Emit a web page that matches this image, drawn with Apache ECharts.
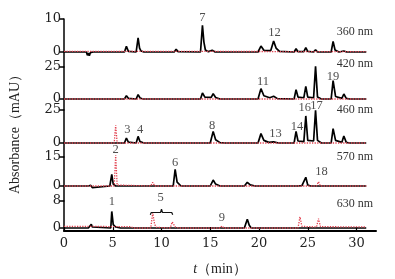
<!DOCTYPE html>
<html>
<head>
<meta charset="utf-8">
<script src="https://cdn.jsdelivr.net/npm/echarts@6/dist/echarts.min.js"></script>
<style>
  html, body { margin: 0; padding: 0; background: #fff; }
  #chart { width: 395px; height: 279px; }
</style>
</head>
<body>
<div id="chart"></div>
<script>
// panel names and the top tick of each y axis
var wavelengths = ['360 nm', '420 nm', '460 nm', '570 nm', '630 nm']
var yTopTicks = [10, 25, 25, 15, 8]
var xTicks = [0, 5, 10, 15, 20, 25, 30]

// chromatograms: [t (min), absorbance (mAU)]
var black360 = [[0,0],[2.3,0],[2.4,-1.0],[2.5,-0.3],[2.6,-1.1],[2.7,-0.2],[2.9,-0.8],[3.0,0],[4.7,0],[4.9,0.3],[5.1,0],[6.2,0],[6.4,1.7],[6.6,0.2],[7.4,0],[7.6,4.3],[7.75,1.2],[7.9,0.3],[8.2,0],[11.3,0],[11.5,0.8],[11.7,0.1],[14.0,0],[14.2,8.1],[14.35,3.0],[14.5,0.6],[14.8,0.1],[15.2,0.5],[15.5,0],[19.9,0],[20.2,1.8],[20.5,0.5],[21.2,0.4],[21.5,3.3],[21.75,1.2],[22.1,0.2],[23.6,0],[23.8,1.0],[24.0,0.1],[24.6,0.1],[24.8,1.3],[25.0,0.2],[25.6,0],[25.8,0.7],[26.0,0],[27.4,0],[27.6,3.2],[27.8,0.6],[28.2,0],[28.7,0.3],[29.0,0],[31.0,0]]
var red360 = [[0,0.2],[7.1,0.2],[7.3,0.6],[7.5,0.2],[31.0,0.1]]

var black420 = [[0,0],[2.6,0],[2.8,-1.0],[3.0,0],[6.2,0],[6.4,2.6],[6.6,0.5],[7.4,0],[7.6,3.4],[7.8,0.8],[8.1,0],[14.0,0],[14.2,4.7],[14.45,1.5],[15.1,1.2],[15.3,4.2],[15.55,1.2],[16.0,0],[19.9,0],[20.2,8.1],[20.5,2.5],[21.1,1.0],[21.5,2.1],[21.9,0.3],[23.6,0],[23.8,7.3],[24.0,1.5],[24.6,1.0],[24.8,9.9],[25.0,1.5],[25.6,1.0],[25.8,25.5],[26.0,1.5],[26.4,0],[27.4,0],[27.6,14.3],[27.85,2.0],[28.5,0.5],[28.7,3.9],[28.95,0.5],[29.3,0],[31.0,0]]
var red420 = [[0,0],[5.1,0],[5.3,0.8],[5.5,0],[31.0,0]]

var black460 = [[0,0],[2.7,0],[2.9,-1.2],[3.1,0],[6.2,0],[6.4,3.8],[6.6,0.6],[7.4,0],[7.6,5.0],[7.8,1.0],[8.2,0],[11.3,0],[11.5,0.6],[11.7,0],[14.0,0],[14.2,0.8],[14.4,0],[15.0,0],[15.3,8.8],[15.55,2.5],[16.0,0.3],[16.5,0],[19.9,0],[20.2,7.1],[20.5,2.0],[21.0,0.5],[21.5,0.8],[22.0,0],[23.6,0],[23.8,8.8],[24.0,1.5],[24.6,1.0],[24.8,20.5],[25.0,2.0],[25.6,1.5],[25.8,24.8],[26.0,2.0],[26.4,0],[27.4,0],[27.6,10.9],[27.85,2.0],[28.5,0.5],[28.7,5.3],[28.95,0.5],[29.3,0],[31.0,0]]
var red460 = [[0,0],[5.15,0],[5.3,13.5],[5.45,0],[21.5,0],[21.7,1.0],[21.9,0],[31.0,0]]

var black570 = [[0,0],[2.5,0],[2.6,-0.9],[2.75,0.3],[2.9,-0.8],[3.05,0],[4.7,0],[4.9,6.0],[5.05,1.0],[5.3,0],[6.3,0],[6.5,0.5],[6.7,0],[7.4,0],[7.6,0.6],[7.8,0],[11.2,0],[11.4,8.6],[11.6,2.0],[12.0,0],[15.0,0],[15.3,3.1],[15.55,1.0],[16.0,0],[18.5,0],[18.8,1.9],[19.1,0.6],[19.6,0],[24.0,0],[24.2,0.6],[24.4,0.2],[24.6,0.2],[24.8,4.5],[25.0,0.5],[25.3,0],[27.4,0],[27.6,0.5],[27.8,0],[31.0,0]]
var red570 = [[0,0],[5.15,0],[5.3,16.0],[5.45,0.5],[5.6,0],[8.9,0],[9.1,1.9],[9.3,0],[10.9,0],[11.1,0.6],[11.3,0],[16.1,0],[16.3,0.5],[16.5,0],[24.0,0],[24.2,1.0],[24.4,0],[25.9,0],[26.1,2.2],[26.3,0],[31.0,0]]

var black630 = [[0,0],[2.5,0],[2.8,1.1],[2.9,0.3],[3.0,0],[4.8,0],[4.9,4.9],[5.05,1.0],[5.3,0.3],[5.8,0],[18.5,0],[18.8,2.6],[19.0,0.8],[19.2,0],[31.0,0]]
var red630 = [[0,0.5],[6.8,0.4],[7.2,0],[8.9,0],[9.1,4.5],[9.3,1.0],[9.5,0.2],[10.9,0],[11.1,1.8],[11.4,0.3],[11.8,0],[16.0,0],[16.2,0.6],[16.4,0],[24.0,0],[24.2,3.3],[24.4,0.5],[24.6,0.3],[25.9,0.3],[26.1,2.8],[26.3,0.4],[31.0,0.3]]

// peak numbers: [text, t, absorbance]
var labels360 = [['7',14.2,10.5],['12',21.6,5.7]]
var labels420 = [['11',20.4,13.8],['19',27.6,17.7]]
var labels460 = [['3',6.5,10.1],['4',7.8,10.1],['8',15.2,13.4],['13',21.7,7.1],['14',23.9,12.7],['16',24.7,26.5],['17',25.9,28]]
var labels570 = [['2',5.3,18.6],['6',11.4,12.3],['18',26.4,7.4]]
var labels630 = [['1',4.9,7.9],['5',9.9,8.9],['9',16.2,3.0]]
var braceFive = [[8.85,3.9],[8.95,4.6],[9.9,4.6],[10.0,5.6],[10.1,4.6],[11.05,4.6],[11.15,3.9]]

var blacks = [black360, black420, black460, black570, black630]
var reds = [red360, red420, red460, red570, red630]
var labels = [labels360, labels420, labels460, labels570, labels630]

// pixel layout of the stacked panels: top of panel, y of zero, bottom of panel
var layout = [[19, 52, 67], [67, 99, 110], [110, 143, 157], [157, 186, 201], [201, 228, 231]]
var nameY = [33, 65, 111, 158, 205]

var FONT = 'Liberation Serif'
var TICKFONT = 'DejaVu Serif'
var chart = echarts.init(document.getElementById('chart'))

var grids = [], xAxes = [], yAxes = [], series = []
layout.forEach(function (p, i) {
  var top = p[0], zero = p[1], bottom = p[2]
  var scale = (zero - top) / yTopTicks[i]
  var last = i === layout.length - 1
  grids.push({ left: 64, right: 19, top: top, height: bottom - top })
  xAxes.push({
    gridIndex: i,
    type: 'value',
    min: 0,
    max: 32,
    show: last,
    axisLine: { onZero: false, lineStyle: { color: '#000', width: 2 } },
    axisTick: { inside: true, length: 4, customValues: xTicks, lineStyle: { color: '#000', width: 1.2 } },
    axisLabel: { customValues: xTicks, color: '#222', fontFamily: TICKFONT, fontSize: 13, margin: 6 },
    splitLine: { show: false },
    name: last ? '{it|t}（min）' : '',
    nameLocation: 'middle',
    nameGap: 31,
    nameTextStyle: { color: '#222', fontFamily: FONT, fontSize: 14, rich: { it: { fontStyle: 'italic', fontFamily: FONT, fontSize: 14, color: '#222' } } }
  })
  yAxes.push({
    gridIndex: i,
    type: 'value',
    min: -(bottom - zero) / scale,
    max: yTopTicks[i],
    axisLine: { show: true, lineStyle: { color: '#000', width: 1.5 } },
    axisTick: { show: true, length: 5, customValues: [0, yTopTicks[i]], lineStyle: { color: '#000', width: 1.5 } },
    axisLabel: { customValues: [0, yTopTicks[i]], color: '#222', fontFamily: TICKFONT, fontSize: 13, margin: 3 },
    splitLine: { show: false }
  })
  series.push({
    type: 'line', xAxisIndex: i, yAxisIndex: i, data: blacks[i], clip: false,
    symbol: 'none', z: 2, lineStyle: { color: '#000', width: 1.7 }
  })
  series.push({
    type: 'line', xAxisIndex: i, yAxisIndex: i, data: reds[i], clip: false,
    symbol: 'none', z: 3, lineStyle: { color: '#e2414f', width: 1.3, type: 'dotted' }
  })
  series.push({
    type: 'scatter', xAxisIndex: i, yAxisIndex: i, clip: false, symbolSize: 0, z: 4,
    data: labels[i].map(function (l) { return { value: [l[1], l[2]], name: l[0] } }),
    label: { show: true, position: 'inside', formatter: '{b}', color: '#222', fontFamily: FONT, fontSize: 12.5 }
  })
})

series.push({
  type: 'line', xAxisIndex: 4, yAxisIndex: 4, data: braceFive, clip: false,
  symbol: 'none', z: 4, lineStyle: { color: '#111', width: 1.2 }
})

var graphics = wavelengths.map(function (w, i) {
  return {
    type: 'text', right: 22, top: nameY[i] - 7,
    style: { text: w, fill: '#333', font: '12px "Liberation Serif"' }
  }
})
graphics.push({
  type: 'text', x: 15, y: 131, rotation: Math.PI / 2,
  style: { text: 'Absorbance（mAU）', fill: '#222', font: '14px "Liberation Serif"', align: 'center', verticalAlign: 'middle' }
})

chart.setOption({
  animation: false,
  grid: grids,
  xAxis: xAxes,
  yAxis: yAxes,
  series: series,
  graphic: graphics
})
</script>
</body>
</html>
